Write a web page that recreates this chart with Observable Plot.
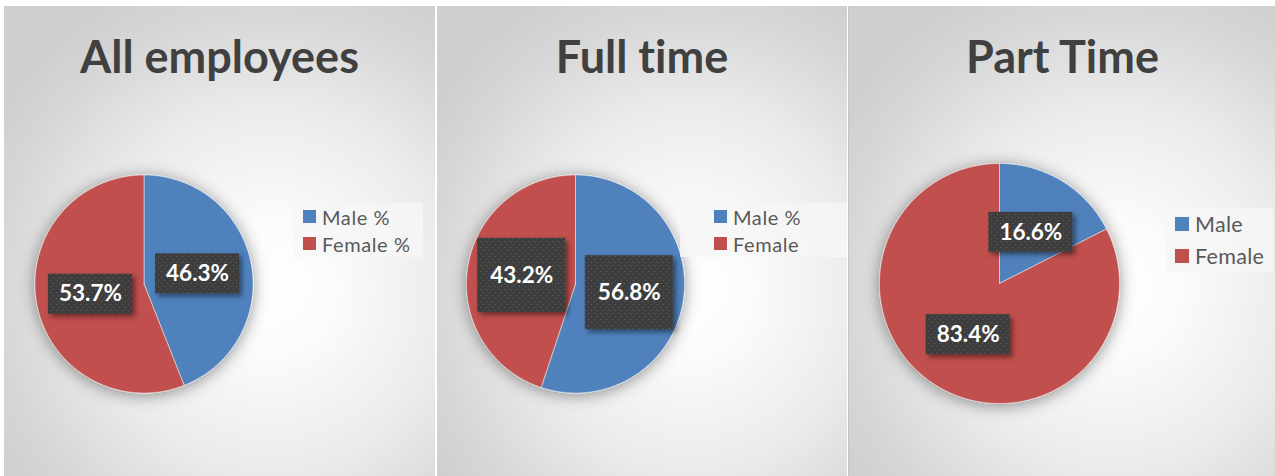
<!DOCTYPE html>
<html>
<head>
<meta charset="utf-8">
<script src="https://cdn.jsdelivr.net/npm/d3@7"></script>
<script src="https://cdn.jsdelivr.net/npm/@observablehq/plot@0.6"></script>
<style>
  html, body { margin: 0; padding: 0; background: #ffffff; }
  #root { position: relative; width: 1275px; height: 476px; overflow: hidden; background: #ffffff; font-family: Lato, "Open Sans", sans-serif; font-variant-ligatures: none; }
  .panel { position: absolute; top: 6px; height: 470px; }
  .panel svg { position: absolute; left: 0; top: 0; font-variant-ligatures: none; }
  .title { position: absolute; text-align: center; font-weight: 700; color: #404040; line-height: 1; white-space: nowrap; font-variant-ligatures: none; }
  .legend { position: absolute; background: rgba(246,246,246,0.8); box-sizing: border-box; }
  .legend .row { display: flex; align-items: center; color: #595959; white-space: nowrap; }
  .legend .sw { flex: none; }
</style>
</head>
<body>
<div id="root"></div>
<script>
// ---- data ----
const titles = ["All employees", "Full time", "Part Time"];
const legendLabels = [["Male %", "Female %"], ["Male %", "Female"], ["Male", "Female"]];
const seriesKeys = ["Male", "Female"];
// slice sizes as drawn in the picture (share of the circle, %)
const maleSlice = [44.0, 55.1, 17.5];
const femaleSlice = [56.0, 44.9, 82.5];
// data-label texts as printed on the picture
const maleLabel = ["46.3%", "56.8%", "16.6%"];
const femaleLabel = ["53.7%", "43.2%", "83.4%"];
const seriesColors = ["#4F81BD", "#C0504D"];

// ---- layout (styling only) ----
const layout = [
  {left: 4, width: 431, cx: 143.5, cy: 283.5, r: 109, boxW: 84, boxH: 40,
   legend: {left: 293, top: 203, width: 130, rowH: 27, pad: 10, sq: 13, gap: 6, font: 20, ls: 0.6}},
  {left: 437, width: 410, cx: 575, cy: 283.5, r: 109, boxW: 88, boxH: 74,
   legend: {left: 680, top: 203, width: 167, rowH: 27, pad: 34, sq: 13, gap: 6, font: 20, ls: 0.6}},
  {left: 848, width: 427, cx: 998, cy: 283, r: 120, boxW: 84, boxH: 40,
   legend: {left: 1166, top: 208, width: 107, rowH: 32, pad: 9, sq: 14, gap: 6, font: 21.5, ls: 0.3}}
];
const TOP = 6;
const titleSize = 45;
const NS = "http://www.w3.org/2000/svg";

function pieGeometry(values, texts) {
  const arcs = d3.pie().sort(null).value(d => d.value)(
    values.map((v, i) => ({key: seriesKeys[i], value: v, text: texts[i]}))
  );
  const pts = [];
  const labels = [];
  for (const a of arcs) {
    const span = a.endAngle - a.startAngle;
    const n = Math.max(2, Math.ceil(span / (Math.PI / 360)));
    pts.push({key: a.data.key, x: 0, y: 0});
    for (let k = 0; k <= n; k++) {
      const t = a.startAngle + span * k / n;
      pts.push({key: a.data.key, x: Math.sin(t), y: Math.cos(t)});
    }
    pts.push({key: a.data.key, x: 0, y: 0});
    const m = (a.startAngle + a.endAngle) / 2;
    labels.push({key: a.data.key, x: 0.5 * Math.sin(m), y: 0.5 * Math.cos(m), text: a.data.text});
  }
  return {pts, labels};
}

const root = document.getElementById("root");

titles.forEach((title, p) => {
  const L = layout[p];
  const panel = document.createElement("div");
  panel.className = "panel";
  panel.style.left = L.left + "px";
  panel.style.width = L.width + "px";
  panel.style.background = "radial-gradient(ellipse 75% 70% at 62% 60%, #ffffff 0%, #fbfbfb 20%, #ebebeb 55%, #d6d6d6 85%, #cfcfcf 100%)";
  if (p === 2) panel.style.borderLeft = "1px solid #c4c4c4";
  root.appendChild(panel);

  const {pts, labels} = pieGeometry([maleSlice[p], femaleSlice[p]], [maleLabel[p], femaleLabel[p]]);
  const ox = L.cx - L.left, oy = L.cy - TOP;

  const svg = Plot.plot({
    width: L.width,
    height: 470,
    margin: 0,
    x: {domain: [-1, 1], range: [ox - L.r, ox + L.r], axis: null},
    y: {domain: [1, -1], range: [oy - L.r, oy + L.r], axis: null},
    color: {domain: seriesKeys, range: seriesColors},
    style: {background: "transparent", overflow: "visible"},
    marks: [
      Plot.line(pts, {x: "x", y: "y", z: "key", fill: "key", stroke: "#ffffff", strokeWidth: 0.8, strokeOpacity: 0.6, strokeLinejoin: "round"}),
      Plot.rect(labels, {x1: "x", x2: "x", y1: "y", y2: "y",
        insetLeft: -L.boxW / 2, insetRight: -L.boxW / 2, insetTop: -L.boxH / 2, insetBottom: -L.boxH / 2,
        fill: `url(#dots${p})`}),
      Plot.text(labels, {x: "x", y: "y", text: "text", fill: "#ffffff", fontSize: 22.5, fontWeight: "bold", fontFamily: "Lato, 'Open Sans', sans-serif"})
    ]
  });
  const defs = document.createElementNS(NS, "defs");
  defs.innerHTML = `
    <pattern id="dots${p}" width="6" height="6" patternUnits="userSpaceOnUse">
      <rect width="6" height="6" fill="#3c3c3c"/>
      <circle cx="1.5" cy="1.5" r="0.7" fill="#5a5a5a"/>
      <circle cx="4.5" cy="4.5" r="0.7" fill="#5a5a5a"/>
    </pattern>
    <filter id="pieShadow${p}" x="-30%" y="-30%" width="160%" height="160%">
      <feDropShadow dx="0" dy="2" stdDeviation="8" flood-color="#000" flood-opacity="0.42"/>
    </filter>
    <filter id="boxShadow${p}" x="-30%" y="-30%" width="160%" height="160%">
      <feDropShadow dx="3" dy="3" stdDeviation="2.5" flood-color="#000" flood-opacity="0.45"/>
    </filter>`;
  svg.insertBefore(defs, svg.firstChild);
  const lineG = svg.querySelector('g[aria-label="line"]');
  if (lineG) lineG.setAttribute("filter", `url(#pieShadow${p})`);
  const rectG = svg.querySelector('g[aria-label="rect"]');
  if (rectG) rectG.setAttribute("filter", `url(#boxShadow${p})`);
  panel.appendChild(svg);

  // title
  const t = document.createElement("div");
  t.className = "title";
  t.textContent = title;
  t.style.fontSize = titleSize + "px";
  t.style.left = "0px";
  t.style.width = L.width + "px";
  t.style.top = (74 - TOP - 0.887 * titleSize) + "px";
  panel.appendChild(t);

  // legend
  const G = L.legend;
  const lg = document.createElement("div");
  lg.className = "legend";
  lg.style.left = G.left + "px";
  lg.style.top = G.top + "px";
  lg.style.width = G.width + "px";
  lg.style.paddingLeft = G.pad + "px";
  legendLabels[p].forEach((lab, i) => {
    const row = document.createElement("div");
    row.className = "row";
    row.style.height = G.rowH + "px";
    row.style.fontSize = G.font + "px";
    row.style.letterSpacing = G.ls + "px";
    const sw = document.createElement("span");
    sw.className = "sw";
    sw.style.width = G.sq + "px";
    sw.style.height = G.sq + "px";
    sw.style.background = seriesColors[i];
    sw.style.marginRight = G.gap + "px";
    const tx = document.createElement("span");
    tx.textContent = lab;
    row.appendChild(sw);
    row.appendChild(tx);
    lg.appendChild(row);
  });
  root.appendChild(lg);
});
</script>
</body>
</html>
